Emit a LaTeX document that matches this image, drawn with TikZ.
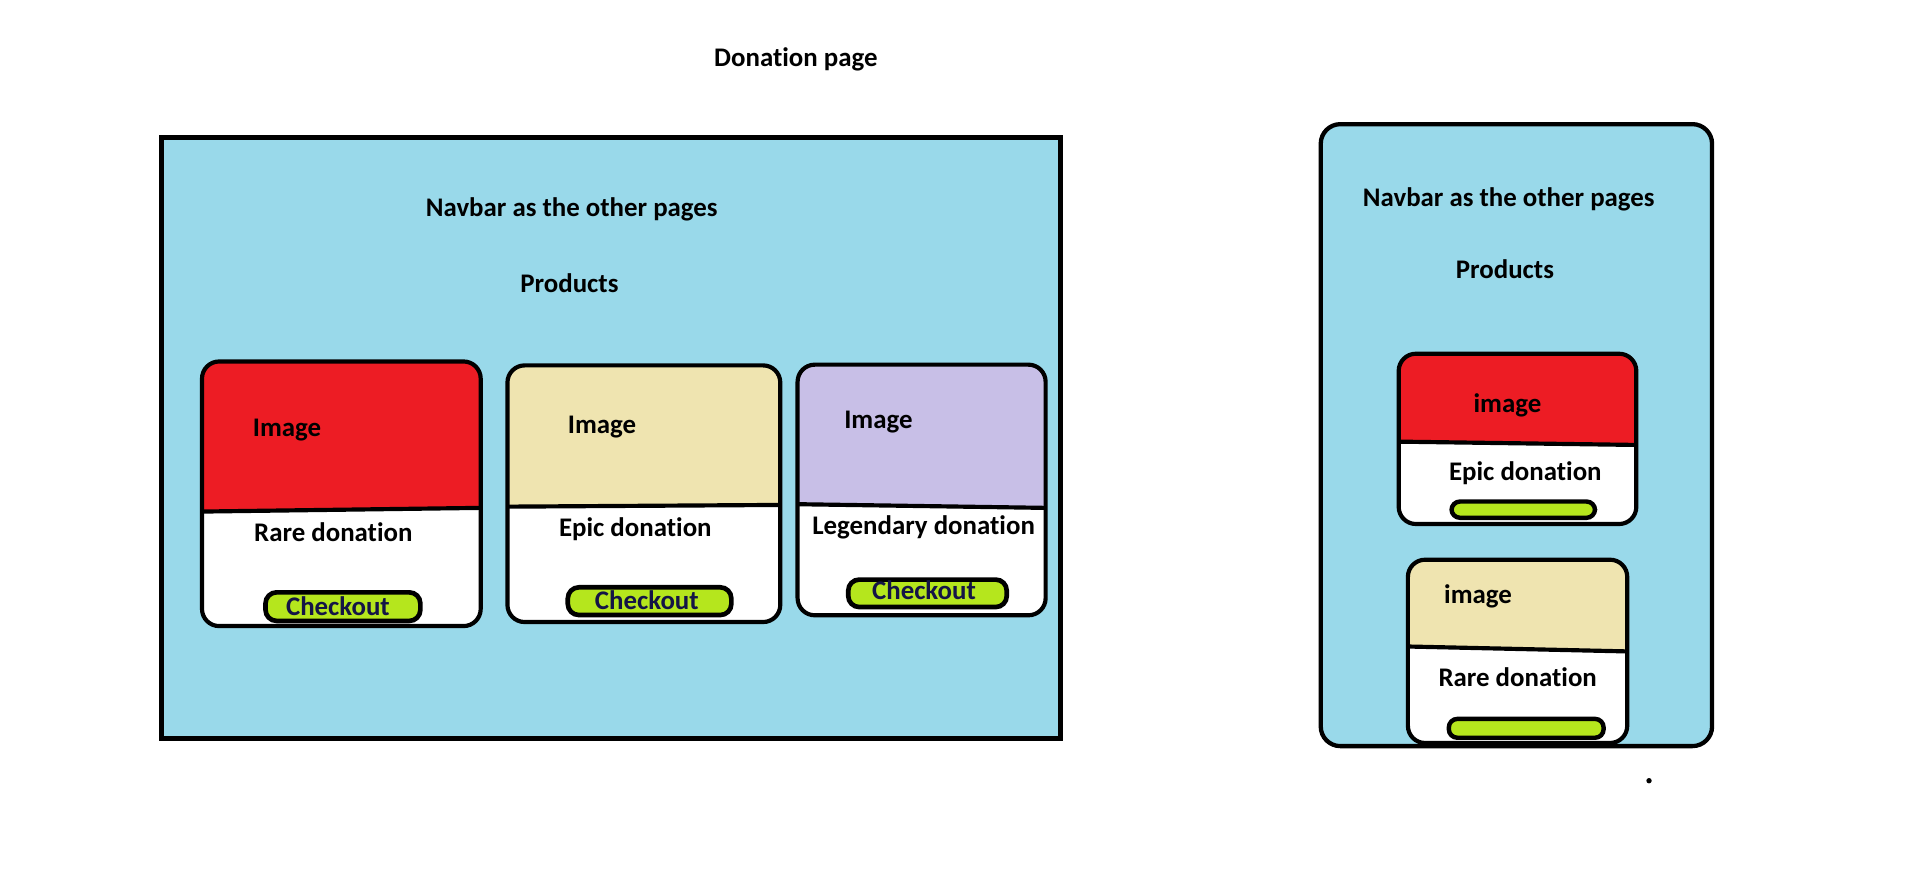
\documentclass[tikz,border=0pt]{standalone}
\usepackage{fontspec}
\setmainfont{Carlito}[Ligatures=NoCommon]
\definecolor{sky}{RGB}{153,217,234}
\definecolor{paintred}{RGB}{237,28,36}
\definecolor{beige}{RGB}{239,228,176}
\definecolor{lavender}{RGB}{200,191,231}
\definecolor{lime}{RGB}{181,230,29}
\definecolor{btntext}{RGB}{20,20,70}
\newcommand\wfcard[7]{%
  \begin{scope}
    \clip[rounded corners=14pt] (#1,#2) rectangle (#3,#4);
    \fill[white] (#1,#2) rectangle (#3,#4);
    \fill[#5] (#1,#2) -- (#3,#2) -- (#3,#7) -- (#1,#6) -- cycle;
  \end{scope}
  \draw[cardline] (#1,#6) -- (#3,#7);
  \draw[cardline,rounded corners=14pt] (#1,#2) rectangle (#3,#4);
}
\begin{document}
\begin{tikzpicture}[x=1pt,y=-1pt,
  every node/.style={inner sep=0pt,font=\fontsize{21.9}{24}\selectfont\bfseries},
  lbl/.style={anchor=base west},
  cardline/.style={draw=black,line width=3.4pt},
  btn/.style={fill=lime,draw=black,line width=3.8pt,rounded corners=9pt},
  smallbtn/.style={fill=lime,draw=black,line width=3.6pt,rounded corners=7pt},
  btnlbl/.style={anchor=base west,text=btntext}]
\useasboundingbox (0,0) rectangle (1570,709.2);
\fill[white] (0,0) rectangle (1570,709.2);

% title
\node[lbl] (title) at (582,53.8) {Donation page};

% desktop page
\draw[fill=sky,line width=4pt] (131.6,112.2) rectangle (864.5,602);
\node[lbl] (navL) at (347,176.6) {Navbar as the other pages};
\node[lbl] (prodL) at (424,238.3) {Products};

\wfcard{164.65}{294.65}{391.85}{510.35}{paintred}{417}{414}
\wfcard{413.65}{297.85}{636.05}{507.05}{beige}{413}{411.6}
\wfcard{650.15}{297.25}{852.35}{501.55}{lavender}{411}{414}

\draw[btn] (216.45,482.85) rectangle (342.65,506.15);
\draw[btn] (462.85,478.75) rectangle (596.15,501.35);
\draw[btn] (691.45,472.45) rectangle (820.65,494.85);

\node[lbl] (img1) at (206,356) {Image};
\node[lbl] (name1) at (207,441.5) {Rare donation};
\node[btnlbl] (chk1) at (233,501.4) {Checkout};
\node[lbl] (img2) at (462.7,353.3) {Image};
\node[lbl] (name2) at (455.5,437.5) {Epic donation};
\node[btnlbl] (chk2) at (484.8,496.7) {Checkout};
\node[lbl] (img3) at (688,349) {Image};
\node[lbl] (name3) at (662,436) {Legendary donation};
\node[btnlbl] (chk3) at (710.7,489) {Checkout};

% mobile page
\draw[fill=sky,line width=3.5pt,rounded corners=16pt] (1076.6,101.2) rectangle (1395.6,608.2);
\node[lbl] (navR) at (1110.8,168.5) {Navbar as the other pages};
\node[lbl] (prodR) at (1186.6,226.9) {Products};

\wfcard{1140.15}{288.35}{1333.85}{427.15}{paintred}{360}{362.7}
\wfcard{1147.65}{456.25}{1326.45}{605.65}{beige}{527}{531}

\draw[smallbtn] (1183.2,408.8) rectangle (1300.2,422.1);
\draw[smallbtn] (1181,586) rectangle (1307.2,601.4);

\node[lbl] (imgR1) at (1201,336.4) {image};
\node[lbl] (nameR1) at (1181,391.3) {Epic donation};
\node[lbl] (imgR2) at (1177,491.8) {image};
\node[lbl] (nameR2) at (1172.4,559.7) {Rare donation};

% stray dot
\fill[black] (1344.2,636.4) circle (2.2pt);
\end{tikzpicture}
\end{document}
